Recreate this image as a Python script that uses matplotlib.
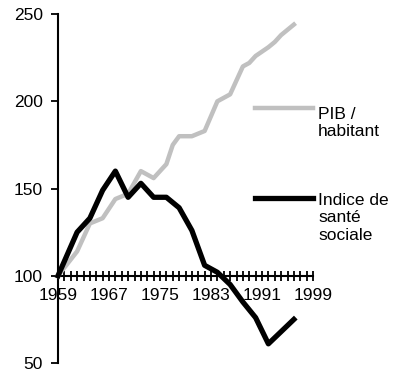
import matplotlib
matplotlib.use('Agg')
import matplotlib.pyplot as plt
from matplotlib.lines import Line2D

plt.rcParams['font.family'] = ['Liberation Sans', 'DejaVu Sans']

# PIB / habitant (indice, 1959 = 100)
pib_years = [1959, 1962, 1964, 1966, 1968, 1970, 1972, 1974, 1976, 1977, 1978, 1980,
             1982, 1984, 1986, 1988, 1989, 1990, 1992, 1993, 1994, 1996]
pib_values = [100, 114, 130, 133, 144, 147, 160, 156, 164, 175, 180, 180,
              183, 200, 204, 220, 222, 226, 231, 234, 238, 244]

# Indice de santé sociale
iss_years = [1959, 1962, 1964, 1966, 1968, 1970, 1972, 1974, 1976, 1978, 1980,
             1982, 1984, 1986, 1988, 1990, 1992, 1996]
iss_values = [100, 125, 133, 149, 160, 145, 153, 145, 145, 139, 126,
              106, 102, 95, 85, 76, 61, 75]

year_labels = [1959, 1967, 1975, 1983, 1991, 1999]
y_ticks = [50, 100, 150, 200, 250]

grey = '#c0c0c0'

fig = plt.figure(figsize=(4.0, 3.81), dpi=100)
ax = fig.add_axes([0.145, 0.0472, 0.6375, 0.9158])

ax.plot(pib_years, pib_values, color=grey, lw=3.2, clip_on=False, zorder=3)
ax.plot(iss_years, iss_values, color='black', lw=3.8, clip_on=False, zorder=4)

ax.set_xlim(1959, 1999)
ax.set_ylim(50, 250)

for s in ['top', 'right']:
    ax.spines[s].set_visible(False)
ax.spines['bottom'].set_position(('data', 100))
ax.spines['bottom'].set_linewidth(1.5)
ax.spines['left'].set_linewidth(1.5)

ax.set_xticks(year_labels)
ax.set_xticklabels([str(y) for y in year_labels])
ax.set_xticks(list(range(1959, 2000)), minor=True)
ax.tick_params(axis='x', which='both', direction='inout', length=7, width=1.3,
               labelsize=12.5, pad=5)
ax.set_yticks(y_ticks)
ax.tick_params(axis='y', direction='out', length=5, width=1.3, labelsize=12.5, pad=6)

# legend
fig.add_artist(Line2D([255 / 400, 313 / 400], [1 - 108 / 381, 1 - 108 / 381],
                      color=grey, lw=3.2))
fig.text(318 / 400, 1 - 107 / 381, 'PIB /\nhabitant', fontsize=12.5,
         va='top', ha='left', linespacing=1.2)
fig.add_artist(Line2D([255 / 400, 313 / 400], [1 - 198 / 381, 1 - 198 / 381],
                      color='black', lw=3.8))
fig.text(318 / 400, 1 - 193 / 381, 'Indice de\nsanté\nsociale', fontsize=12.5,
         va='top', ha='left', linespacing=1.2)

fig.savefig('out.png', dpi=100)
